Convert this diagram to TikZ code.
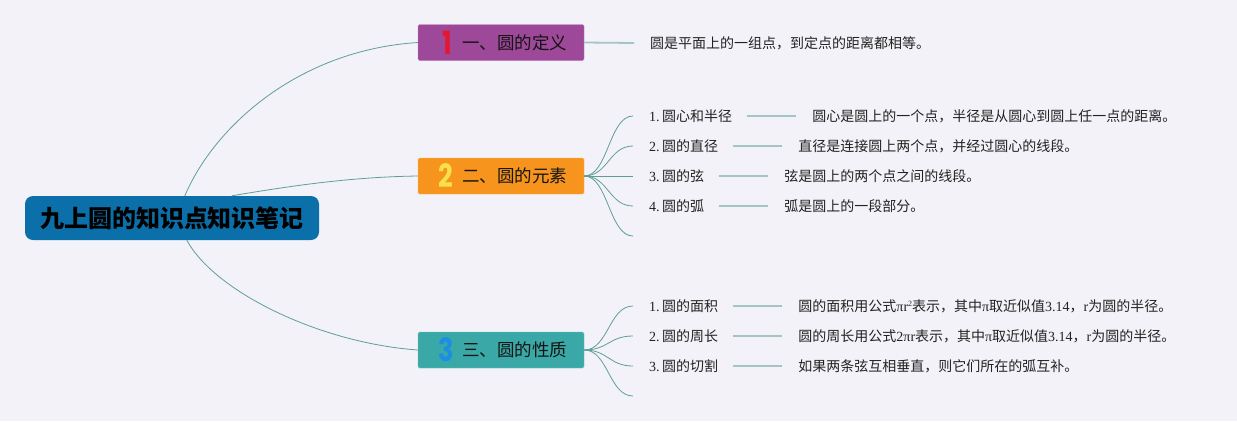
\documentclass[tikz,border=0pt]{standalone}
\usepackage{fontspec}
\setmainfont{Liberation Serif}
\newfontfamily\cjk{Noto Sans CJK SC}
\newfontfamily\numfont{Poppins}[FakeStretch=0.8, BoldFont={Poppins Bold}]
\usetikzlibrary{positioning}
\definecolor{bgc}{HTML}{F3F2F8}
\definecolor{rootc}{HTML}{0B70AA}
\definecolor{purplec}{HTML}{9E4899}
\definecolor{orangec}{HTML}{F7941D}
\definecolor{tealc}{HTML}{3AA8A6}
\definecolor{numred}{HTML}{E3172F}
\definecolor{numyellow}{HTML}{F8E04B}
\definecolor{numblue}{HTML}{1C8FE3}
\definecolor{linec}{HTML}{5E9E99}
\definecolor{leafc}{HTML}{A3C6C2}
\definecolor{txtc}{HTML}{222222}
\begin{document}
\begin{tikzpicture}[x=1pt,y=-1pt,
  rootbox/.style={rounded corners=8pt, fill=rootc, minimum width=294pt, minimum height=44pt, inner sep=0pt,
    font=\cjk\bfseries\fontsize{24}{24}\selectfont, text=black},
  topicbox/.style={minimum width=166pt, minimum height=36pt, inner sep=0pt, rounded corners=1.5pt},
  topictext/.style={anchor=west, inner sep=0pt, font=\cjk\fontsize{17.5}{18}\selectfont, text=black!92},
  numtext/.style={inner sep=0pt, font=\numfont\bfseries\fontsize{32}{32}\selectfont},
  itemtext/.style={anchor=west, inner sep=0pt, font=\fontsize{14}{16}\selectfont, text=txtc},
  desctext/.style={itemtext, right=80pt of #1},
  branch/.style={draw=linec, line width=0.8pt},
  leaf/.style={draw=leafc, line width=1.8pt}
]
\fill[bgc] (0,0) rectangle (1237,421);
\useasboundingbox (0,0) rectangle (1237,421);

% root
\node[rootbox] (root) at (172,218) {九上圆的知识点知识笔记};

% topics
\node[topicbox, fill=purplec, draw=purplec!70!white] (t1) at (501,42.5) {};
\node[numtext, text=numred] (n1) at (447,43) {1};
\node[topictext] (tt1) at (462,43) {一、圆的定义};

\node[topicbox, fill=orangec, draw=orangec!70!white] (t2) at (501,176) {};
\node[numtext, text=numyellow] (n2) at (446,176) {2};
\node[topictext] (tt2) at (462,176) {二、圆的元素};

\node[topicbox, fill=tealc, draw=tealc!70!white] (t3) at (501,350) {};
\node[numtext, text=numblue] (n3) at (446,350) {3};
\node[topictext] (tt3) at (462,350) {三、圆的性质};

% root connectors
\draw[branch] ([xshift=160pt]root.north west) .. controls (215,125) and (300,50) .. (t1.west);
\draw[branch] ([xshift=207pt]root.north west) .. controls (290,186) and (350,177) .. (t2.west);
\draw[branch] ([xshift=162pt]root.south west) .. controls (215,292) and (320,343) .. (t3.west);

% topic 1
\node[itemtext] (d1) at (650,43) {\cjk 圆是平面上的一组点，到定点的距离都相等。};
\draw[leaf] (t1.east) -- ([xshift=-16pt]d1.west);

% topic 2 items
\node[itemtext] (l21) at (649,116) {1.\,{\cjk 圆心和半径}};
\node[itemtext] (l22) at (649,146) {2.\,{\cjk 圆的直径}};
\node[itemtext] (l23) at (649,176) {3.\,{\cjk 圆的弦}};
\node[itemtext] (l24) at (649,206) {4.\,{\cjk 圆的弧}};
\coordinate (e25) at (633,236);
\node[desctext=l21] (d21) {\cjk 圆心是圆上的一个点，半径是从圆心到圆上任一点的距离。};
\node[desctext=l22] (d22) {\cjk 直径是连接圆上两个点，并经过圆心的线段。};
\node[desctext=l23] (d23) {\cjk 弦是圆上的两个点之间的线段。};
\node[desctext=l24] (d24) {\cjk 弧是圆上的一段部分。};
\foreach \i in {1,2,3,4}{
  \draw[branch] (t2.east) .. controls +(24,0) and +(-24,0) .. ([xshift=-16pt]l2\i.west);
  \draw[leaf] ([xshift=15pt]l2\i.east) -- ([xshift=-16pt]d2\i.west);
}
\draw[branch] (t2.east) .. controls +(24,0) and +(-24,0) .. (e25);

% topic 3 items
\node[itemtext] (l31) at (649,306) {1.\,{\cjk 圆的面积}};
\node[itemtext] (l32) at (649,336) {2.\,{\cjk 圆的周长}};
\node[itemtext] (l33) at (649,366) {3.\,{\cjk 圆的切割}};
\coordinate (e34) at (633,396);
\node[desctext=l31] (d31) {{\cjk 圆的面积用公式}πr\raisebox{4.5pt}{\fontsize{8}{8}\selectfont 2}{\cjk 表示，其中}π{\cjk 取近似值}3.14{\cjk ，}r{\cjk 为圆的半径。}};
\node[desctext=l32] (d32) {{\cjk 圆的周长用公式}2πr{\cjk 表示，其中}π{\cjk 取近似值}3.14{\cjk ，}r{\cjk 为圆的半径。}};
\node[desctext=l33] (d33) {\cjk 如果两条弦互相垂直，则它们所在的弧互补。};
\foreach \i in {1,2,3}{
  \draw[branch] (t3.east) .. controls +(24,0) and +(-24,0) .. ([xshift=-16pt]l3\i.west);
  \draw[leaf] ([xshift=15pt]l3\i.east) -- ([xshift=-16pt]d3\i.west);
}
\draw[branch] (t3.east) .. controls +(24,0) and +(-24,0) .. (e34);
\end{tikzpicture}
\end{document}
